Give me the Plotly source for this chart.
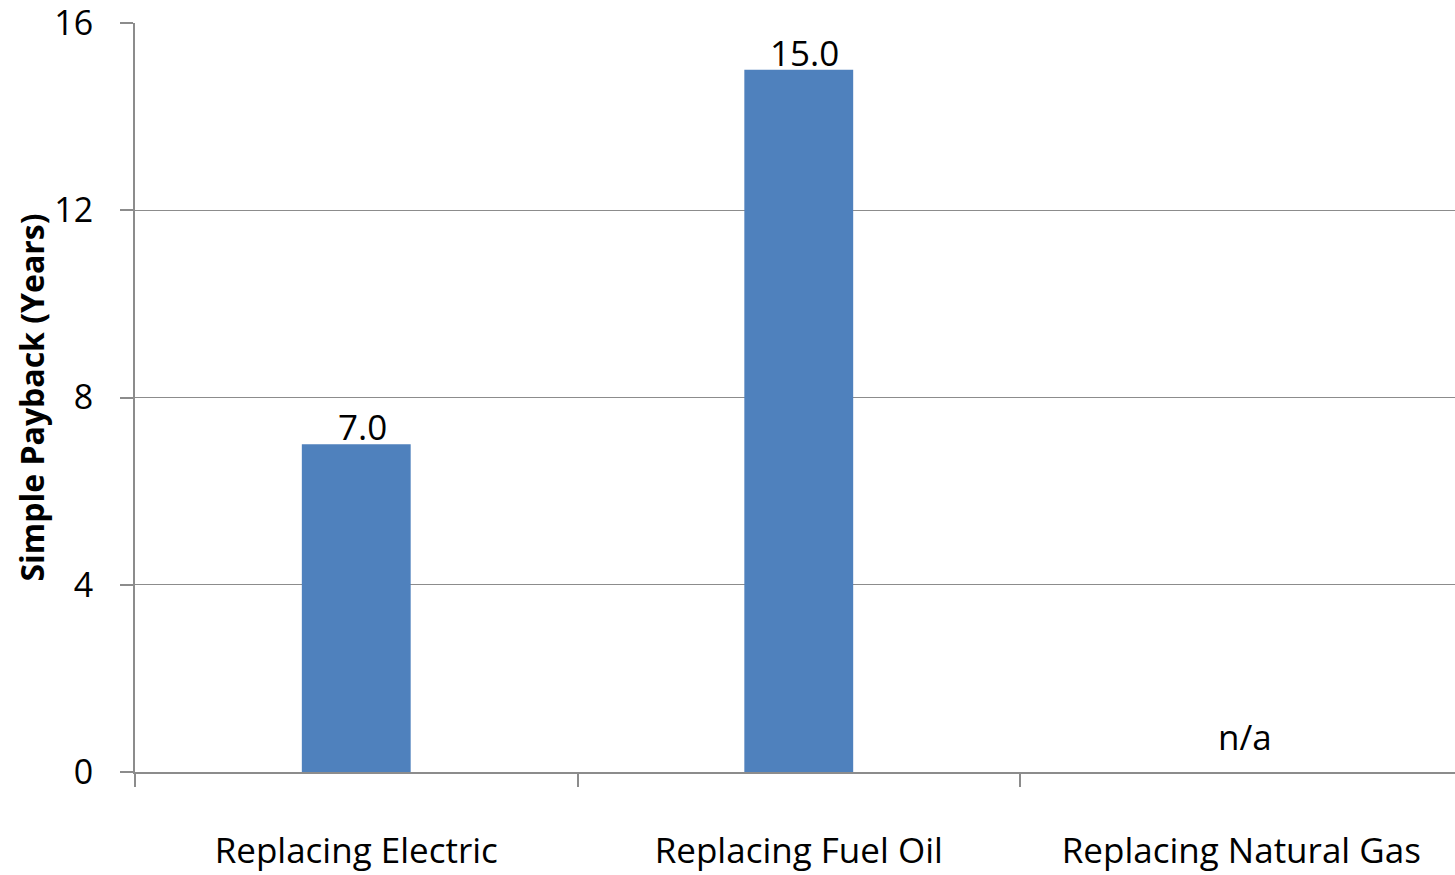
import plotly.graph_objects as go

categories = ["Replacing Electric", "Replacing Fuel Oil", "Replacing Natural Gas"]
payback_years = [7.0, 15.0, None]
na_label = "n/a"
y_ticks = [0, 4, 8, 12, 16]

FONT = "Open Sans, Liberation Sans, sans-serif"
GRID = "#8c8c8c"

fig = go.Figure(
    go.Bar(
        x=categories,
        y=payback_years,
        marker=dict(color="#4f81bd", line=dict(width=0)),
        width=0.246,
    )
)

# value labels sit just above each bar; missing values are marked n/a
for cat, val in zip(categories, payback_years):
    if val is None:
        fig.add_annotation(
            x=cat, y=0.75, text=na_label, showarrow=False, xshift=4,
            font=dict(family=FONT, size=35, color="black"),
        )
    else:
        fig.add_annotation(
            x=cat, y=val, text=f"{val:.1f}", showarrow=False,
            yanchor="bottom", yshift=-8, xshift=6,
            font=dict(family=FONT, size=35, color="black"),
        )

fig.update_layout(
    width=1455, height=875,
    margin=dict(l=135, r=0, t=23, b=103, autoexpand=False),
    paper_bgcolor="white", plot_bgcolor="white",
    showlegend=False,
    font=dict(family=FONT, color="black"),
)

fig.update_xaxes(
    type="category", range=[-0.5, 2.483], automargin=False,
    showline=True, linecolor=GRID, linewidth=2,
    ticks="outside", tickson="boundaries", ticklen=13, tickcolor=GRID, tickwidth=2,
    tickfont=dict(family=FONT, size=35, color="black"),
    ticklabelstandoff=47, ticklabeloverflow="allow",
)

fig.update_yaxes(
    range=[0, 16], tickvals=y_ticks, automargin=False,
    showline=True, linecolor=GRID, linewidth=2,
    showgrid=True, gridcolor=GRID, gridwidth=1.2,
    ticks="outside", ticklen=13, tickcolor=GRID, tickwidth=2,
    tickfont=dict(family=FONT, size=34, color="black"),
    ticklabelstandoff=20, ticklabeloverflow="allow",
    zeroline=False,
    title=dict(text="<b>Simple Payback (Years)</b>",
               font=dict(family=FONT, size=32, color="black"), standoff=0),
)

fig.write_html("out.html")
